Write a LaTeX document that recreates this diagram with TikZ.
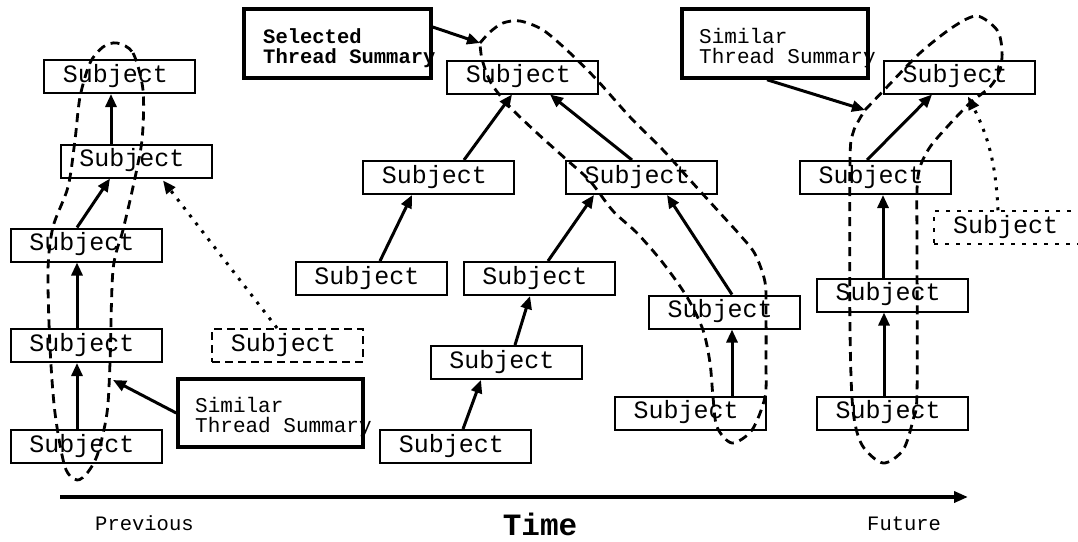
\documentclass[tikz,border=0pt]{standalone}
\usepackage{fontspec}
\newfontfamily\cour{Liberation Mono}
\usetikzlibrary{arrows.meta,calc}
\newcommand\subjtxt{Subject\hspace*{8pt}}
\begin{document}
\begin{tikzpicture}[x=1pt,y=-1pt,
  subj/.style={draw,line width=2pt,minimum width=151pt,minimum height=33pt,inner sep=0pt,
    font=\cour\fontsize{25}{25}\selectfont,text height=15pt,text depth=4pt},
  sumbox/.style={draw,line width=3.5pt,inner sep=0pt},
  sumtext/.style={anchor=base west,inner sep=0pt,font=\cour\fontsize{21}{21}\selectfont},
  conn/.style={line width=3pt,-{Triangle[length=13pt,width=11pt]}},
  dotconn/.style={line width=3pt,dash pattern=on 3pt off 7pt,-{Triangle[length=13pt,width=11pt]}},
  threadloop/.style={line width=2.8pt,dash pattern=on 9pt off 6pt},
]
\useasboundingbox (0,0) rectangle (1078,541);

% left cluster
\node[subj] (L1) at (119.5,76.5) {\subjtxt};
\node[subj] (L2) at (136,161) {\subjtxt};
\node[subj] (L3) at (86,245) {\subjtxt};
\node[subj] (L4) at (86,345.5) {\subjtxt};
\node[subj] (L5) at (86,446.5) {\subjtxt};
\node[subj,dash pattern=on 8pt off 5pt] (Ld) at (287.5,345.5) {\subjtxt};

% middle cluster
\node[subj] (M1) at (522.5,77) {\subjtxt};
\node[subj] (M2) at (438.5,177.5) {\subjtxt};
\node[subj] (M3) at (641,177.5) {\subjtxt};
\node[subj] (M4) at (371,278.5) {\subjtxt};
\node[subj] (M5) at (539,278.5) {\subjtxt};
\node[subj] (M6) at (506,362.5) {\subjtxt};
\node[subj] (M7) at (455.5,446.5) {\subjtxt};
\node[subj] (M8) at (724,312) {\subjtxt};
\node[subj] (M9) at (690,413) {\subjtxt};

% right cluster
\node[subj] (R1) at (959,77) {\subjtxt};
\node[subj] (R2) at (875,177.5) {\subjtxt};
\node[subj,line width=1.5pt,dash pattern=on 4pt off 7pt] (R3) at (1009.5,227.5) {\subjtxt};
\node[subj] (R4) at (892,295) {\subjtxt};
\node[subj] (R5) at (892,413) {\subjtxt};

% summary boxes
\node[sumbox,minimum width=185pt,minimum height=68pt] (SL) at (270.5,413) {};
\node[sumtext] (SLa) at (195,412) {Similar};
\node[sumtext] (SLb) at (195,432) {Thread Summary};
\node[sumbox,minimum width=187pt,minimum height=69pt] (SS) at (337.5,43.5) {};
\node[sumtext,font=\cour\bfseries\fontsize{20.5}{20.5}\selectfont] (SSa) at (263,43) {Selected};
\node[sumtext,font=\cour\bfseries\fontsize{20.5}{20.5}\selectfont] (SSb) at (263,63) {Thread Summary};
\node[sumbox,minimum width=186pt,minimum height=69pt] (SR) at (775,43.5) {};
\node[sumtext] (SRa) at (699,43) {Similar};
\node[sumtext] (SRb) at (699,63) {Thread Summary};

% loop tips
\coordinate (lp) at (113,380);
\coordinate (mp) at (480,43);
\coordinate (rp) at (865,110);

% thread loops
\draw[threadloop] plot[smooth cycle] coordinates {(117,43) (133,53) (143,90) (142,140) (133,187) (123,230)
  (113,270) (110,363) (107,413) (98,453) (88,472) (77,480) (65,467) (55,413) (50,347) (48,270) (53,227)
  (68,187) (75,140) (80,97) (90,63) (103,47)};
\draw[threadloop] plot[smooth] coordinates {(mp) (490,32) (503,23) (520,21) (543,30) (570,53) (597,80)
  (630,117) (663,150) (690,180) (720,213) (740,235) (755,254) (765,282) (766,313) (766,363) (765,397)
  (752,430) (732,443) (717,427) (713,397) (710,363) (703,330) (687,297) (663,263) (637,233) (613,211)
  (590,181) (567,160) (537,133) (510,107) (491,83) (482,59) (mp)};
\draw[threadloop] plot[smooth] coordinates {(rp) (887,87) (920,53) (953,27) (977,16) (997,30) (1002,50)
  (1000,70) (990,87) (970,103) (947,127) (930,147) (920,167) (917,190) (917,250) (917,393) (913,420)
  (903,450) (883,463) (862,445) (853,410) (850,330) (850,161) (853,133) (859,120) (rp)};

% left arrows
\draw[conn] ([xshift=-9pt]L5.north) -- ([xshift=-9pt]L4.south);
\draw[conn] ([xshift=-9pt]L4.north) -- ([xshift=-9pt]L3.south);
\draw[conn] ([xshift=-9pt]L3.north) -- ([xshift=-26pt]L2.south);
\draw[conn] ([xshift=-25pt]L2.north) -- ([xshift=-8.5pt]L1.south);
\draw[dotconn] ([xshift=-10.5pt]Ld.north) -- ([xshift=27pt,yshift=-2pt]L2.south);
\draw[conn] (SL.west) -- (lp);

% middle arrows
\draw[conn] ([xshift=7.5pt]M7.north) -- ([xshift=-25pt]M6.south);
\draw[conn] ([xshift=9pt]M6.north) -- ([xshift=-9pt]M5.south);
\draw[conn] ([xshift=9pt]M4.north) -- ([xshift=-26.5pt]M2.south);
\draw[conn] ([xshift=25.5pt]M2.north) -- ([xshift=-10.5pt]M1.south);
\draw[conn] ([xshift=9pt]M5.north) -- ([xshift=-47pt]M3.south);
\draw[conn] ([xshift=-9pt]M3.north) -- ([xshift=27.5pt]M1.south);
\draw[conn] ([xshift=42pt]M9.north) -- ([xshift=8pt]M8.south);
\draw[conn] ([xshift=8pt]M8.north) -- ([xshift=26pt]M3.south);
\draw[conn] ([yshift=16.5pt]SS.east) -- (mp);

% right arrows
\draw[conn] ([xshift=-8pt]R5.north) -- ([xshift=-8pt]R4.south);
\draw[conn] ([xshift=-9pt]R4.north) -- ([xshift=8pt]R2.south);
\draw[conn] ([xshift=-8pt]R2.north) -- ([xshift=-27pt]R1.south);
\draw[dotconn] ([xshift=-11.5pt]R3.north) to[bend right=12] ([xshift=9pt,yshift=-2pt]R1.south);
\draw[conn] ([xshift=-8pt]SR.south) -- (rp);

% time axis
\coordinate (t0) at (60,497);
\coordinate (t1) at (968,497);
\draw[line width=4pt,-{Triangle[length=14pt,width=11pt]}] (t0) -- (t1);
\node[anchor=base west,inner sep=0pt,font=\cour\fontsize{20.5}{20.5}\selectfont] (prev) at (95,530) {Previous};
\node[anchor=base west,inner sep=0pt,font=\cour\fontsize{20.5}{20.5}\selectfont] (fut) at (867,530) {Future};
\node[anchor=base,inner sep=0pt,font=\cour\bfseries\fontsize{31}{31}\selectfont] (time) at (540,535) {Time};
\end{tikzpicture}
\end{document}
